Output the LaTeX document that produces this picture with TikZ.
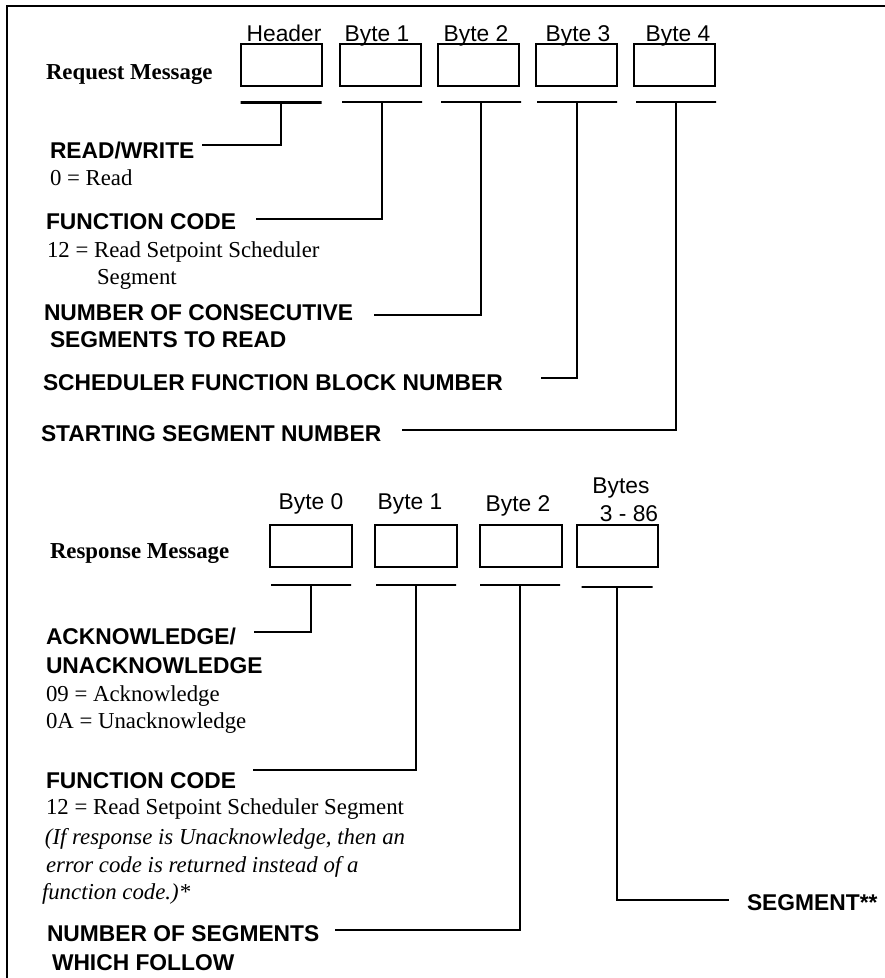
\documentclass[tikz,border=0pt]{standalone}
\usepackage{fontspec}
\setmainfont{Liberation Serif}
\setsansfont{Liberation Sans}
\begin{document}
\begin{tikzpicture}[x=1pt,y=-1pt,
  every node/.style={inner sep=0pt, outer sep=0pt},
  heading/.style={font=\fontsize{22.8}{27.5}\selectfont\sffamily\bfseries, anchor=base west},
  plain/.style={font=\fontsize{22.8}{27.5}\selectfont\rmfamily, anchor=base west},
  slant/.style={font=\fontsize{22.8}{27.5}\selectfont\rmfamily\itshape, anchor=base west},
  msgname/.style={font=\fontsize{22.8}{27.5}\selectfont\rmfamily\bfseries, anchor=base west},
  bytename/.style={font=\fontsize{22.8}{27.5}\selectfont\sffamily, anchor=base},
  cell/.style={draw, line width=2pt, minimum width=81pt, minimum height=42pt},
  bar/.style={draw, line width=2pt, minimum width=80pt, minimum height=0pt},
  conn/.style={line width=2pt}]
\useasboundingbox (0,0) rectangle (885,978);

% page frame (top and left rule)
\draw[line width=2pt] (7,978) -- (7,6) -- (885,6);

% ---------------- request message ----------------
\node[msgname] (reqname) at (46,79) {Request Message};

\node[bytename] (lhdr) at (284,41) {Header};
\node[bytename] (lq1)  at (377,41) {Byte 1};
\node[bytename] (lq2)  at (476,41) {Byte 2};
\node[bytename] (lq3)  at (578,41) {Byte 3};
\node[bytename] (lq4)  at (678,41) {Byte 4};

\node[cell] (qhdr) at (281.5,65) {};
\node[cell] (qb1)  at (380,65) {};
\node[cell] (qb2)  at (478,65) {};
\node[cell] (qb3)  at (576.5,65) {};
\node[cell] (qb4)  at (674.5,65) {};

\node[bar, line width=3pt, minimum width=81pt] (bhdr) at (281,102) {};
\node[bar] (bq1) at (382,102) {};
\node[bar] (bq2) at (481,102) {};
\node[bar] (bq3) at (577,102) {};
\node[bar] (bq4) at (676,102) {};

\node[heading] (rw)    at (50,158) {READ/WRITE};
\node[plain]   (rwval) at (50,185) {0 = Read};
\node[heading] (fc)    at (46,229) {FUNCTION CODE};
\node[plain]   (fcv1)  at (47,257) {12 = Read Setpoint Scheduler};
\node[plain]   (fcv2)  at (97,284) {Segment};
\node[heading] (nc1)   at (44,320) {NUMBER OF CONSECUTIVE};
\node[heading] (nc2)   at (50,347) {SEGMENTS TO READ};
\node[heading] (sfb)   at (43,390) {SCHEDULER FUNCTION BLOCK NUMBER};
\node[heading] (ssn)   at (41,441) {STARTING SEGMENT NUMBER};

\coordinate (erw)  at (202,145);
\coordinate (efc)  at (256,219);
\coordinate (enc)  at (374,315);
\coordinate (esfb) at (541,378);
\coordinate (essn) at (402,430);

\draw[conn] (bhdr.center) |- (erw);
\draw[conn] (bq1.center) |- (efc);
\draw[conn] (bq2.center) |- (enc);
\draw[conn] (bq3.center) |- (esfb);
\draw[conn] (bq4.center) |- (essn);

% ---------------- response message ----------------
\node[msgname] (rspname) at (50,558) {Response Message};

\node[bytename] (lr0) at (311,509) {Byte 0};
\node[bytename] (lr1) at (410,509) {Byte 1};
\node[bytename] (lr2) at (518,511) {Byte 2};
\node[bytename] (lr3a) at (621,493) {Bytes};
\node[bytename] (lr3b) at (629,521) {3 - 86};

\node[cell, minimum width=82pt, minimum height=42pt] (rb0) at (310.5,546) {};
\node[cell, minimum width=82pt, minimum height=42pt] (rb1) at (415.5,546) {};
\node[cell, minimum width=82pt, minimum height=42pt] (rb2) at (521,546) {};
\node[cell, minimum width=81pt, minimum height=42pt] (rb3) at (617.5,546) {};

\node[bar] (br0) at (311,585) {};
\node[bar] (br1) at (416,585) {};
\node[bar] (br2) at (520,585) {};
\node[bar, minimum width=71pt] (br3) at (617,587) {};

\node[heading] (ack1) at (46,644) {ACKNOWLEDGE/};
\node[heading] (ack2) at (46,673) {UNACKNOWLEDGE};
\node[plain]   (ackv1) at (46,701) {09 = Acknowledge};
\node[plain]   (ackv2) at (46,728) {0A = Unacknowledge};

\node[heading] (rfc)  at (46,788) {FUNCTION CODE};
\node[plain]   (rfcv) at (46,814) {12 = Read Setpoint Scheduler Segment};
\node[slant]   (note1) at (45,844) {(If response is Unacknowledge, then an};
\node[slant]   (note2) at (46,872) {error code is returned instead of a};
\node[slant]   (note3) at (42,899) {function code.)*};

\node[heading] (nsf1) at (47,941) {NUMBER OF SEGMENTS};
\node[heading] (nsf2) at (52,970) {WHICH FOLLOW};

\node[heading] (seg) at (747,910) {SEGMENT**};

\coordinate (eack) at (254,632);
\coordinate (erfc) at (253,770);
\coordinate (ensf) at (335,930);
\coordinate (eseg) at (729,900);

\draw[conn] (br0.center) |- (eack);
\draw[conn] (br1.center) |- (erfc);
\draw[conn] (br2.center) |- (ensf);
\draw[conn] (br3.center) |- (eseg);
\end{tikzpicture}
\end{document}
